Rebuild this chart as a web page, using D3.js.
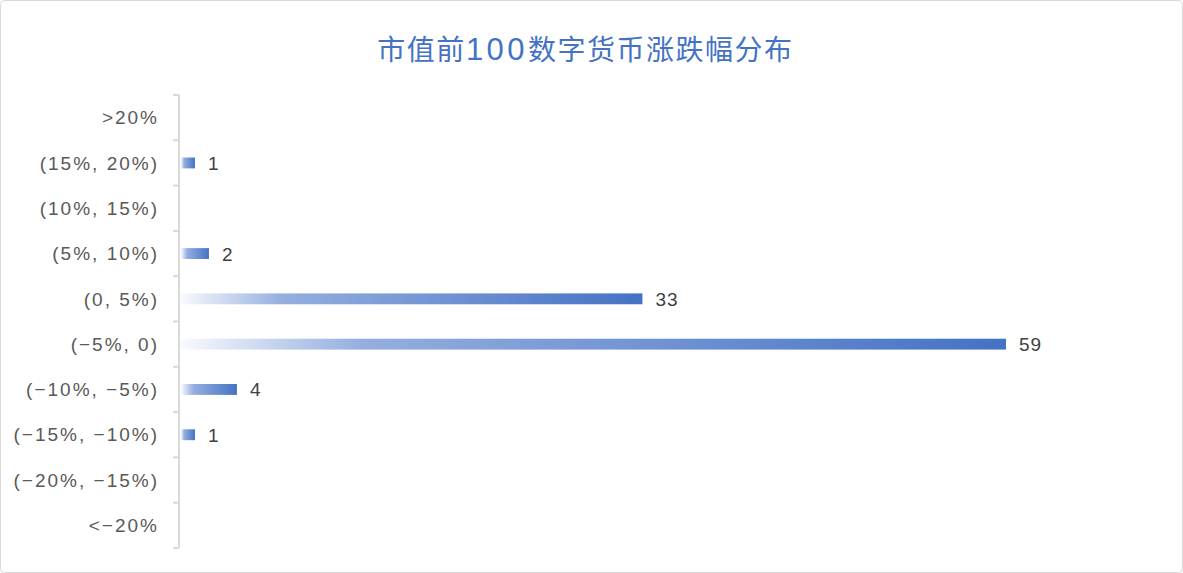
<!DOCTYPE html>
<meta charset="utf-8">
<script src="https://d3js.org/d3.v7.min.js"></script>
<style>
  body { margin: 0; background: #fff; }
</style>
<div id="chart"></div>
<script>
    // data, top to bottom
    var categories = [">20%", "(15%, 20%)", "(10%, 15%)", "(5%, 10%)", "(0, 5%)",
        "(\u22125%, 0)", "(\u221210%, \u22125%)", "(\u221215%, \u221210%)", "(\u221220%, \u221215%)", "<\u221220%"];
    var counts = [0, 1, 0, 2, 33, 59, 4, 1, 0, 0];
    var titleParts = ["市值前", "100", "数字货币涨跌幅分布"];

    var W = 1183, H = 573;
    var margin = { top: 95, right: 119, bottom: 25, left: 180 },
        width = W - margin.left - margin.right,
        height = H - margin.top - margin.bottom;

    var root = d3.select("#chart")
        .append("svg")
        .attr("width", W)
        .attr("height", H);

    // chart border
    root.append("rect")
        .attr("x", 0.5).attr("y", 0.5)
        .attr("width", W - 1).attr("height", H - 1)
        .attr("rx", 4)
        .attr("fill", "#fff")
        .attr("stroke", "#d9d9d9");

    // gradient for bars
    var grad = root.append("defs").append("linearGradient")
        .attr("id", "barGrad")
        .attr("x1", "0%").attr("x2", "100%")
        .attr("y1", "0%").attr("y2", "0%");
    grad.append("stop").attr("offset", "0%").attr("stop-color", "#f8fafd");
    grad.append("stop").attr("offset", "22%").attr("stop-color", "#94aedf");
    grad.append("stop").attr("offset", "100%").attr("stop-color", "#4472c4");

    // title, digits set in a taller latin face like the original
    var title = root.append("text")
        .attr("x", W / 2 - 6)
        .attr("y", 59.5)
        .attr("text-anchor", "middle")
        .style("font-family", "'Noto Sans CJK SC', sans-serif")
        .style("font-size", "28px")
        .style("letter-spacing", "1.5px")
        .style("fill", "#4472c4");
    title.selectAll("tspan")
        .data(titleParts)
        .enter()
        .append("tspan")
        .style("font-family", function (d, i) { return i === 1 ? "'Liberation Sans', Arial, sans-serif" : null; })
        .style("font-size", function (d, i) { return i === 1 ? "31px" : null; })
        .style("letter-spacing", function (d, i) { return i === 1 ? "3.5px" : null; })
        .text(function (d) { return d; });

    var svg = root.append("g")
        .attr("transform", "translate(" + margin.left + "," + margin.top + ")");

    var x = d3.scaleLinear()
        .domain([0, 59])
        .range([0, 825]);

    var y = d3.scaleBand()
        .domain(categories)
        .range([0, height])
        .paddingInner(0.76)
        .paddingOuter(0.38);

    var yBand = d3.scaleBand()
        .domain(categories)
        .range([0, height]);

    // axis line + ticks at category boundaries
    var axis = svg.append("g").attr("class", "axis");
    axis.append("line")
        .attr("x1", -1).attr("x2", -1)
        .attr("y1", 0).attr("y2", height)
        .attr("stroke", "#d9d9d9")
        .attr("stroke-width", 2);
    var bounds = categories.map(function (c) { return yBand(c); }).concat([height]);
    axis.selectAll(".tick")
        .data(bounds)
        .enter()
        .append("line")
        .attr("x1", -7).attr("x2", -1)
        .attr("y1", function (d) { return d; })
        .attr("y2", function (d) { return d; })
        .attr("stroke", "#d9d9d9")
        .attr("stroke-width", 2);

    axis.selectAll(".cat")
        .data(categories)
        .enter()
        .append("text")
        .attr("x", -21)
        .attr("y", function (d) { return yBand(d) + yBand.bandwidth() / 2; })
        .attr("dy", "0.35em")
        .attr("text-anchor", "end")
        .style("font-family", "'Liberation Sans', Arial, sans-serif")
        .style("font-size", "19px")
        .style("letter-spacing", "2px")
        .style("fill", "#595959")
        .text(function (d) { return d; });

    var nonzero = categories.map(function (c, i) { return { cat: c, v: counts[i] }; })
        .filter(function (d) { return d.v > 0; });

    svg.selectAll(".bar")
        .data(nonzero)
        .enter()
        .append("rect")
        .attr("class", "bar")
        .attr("x", 1)
        .attr("y", function (d) { return y(d.cat); })
        .attr("width", function (d) { return x(d.v); })
        .attr("height", y.bandwidth())
        .attr("fill", "url(#barGrad)");

    svg.selectAll(".value")
        .data(nonzero)
        .enter()
        .append("text")
        .attr("class", "value")
        .attr("x", function (d) { return x(d.v) + 14; })
        .attr("y", function (d) { return y(d.cat) + y.bandwidth() / 2; })
        .attr("dy", "0.37em")
        .style("font-family", "'Liberation Sans', Arial, sans-serif")
        .style("font-size", "19px")
        .style("letter-spacing", "1px")
        .style("fill", "#404040")
        .text(function (d) { return d.v; });
</script>
